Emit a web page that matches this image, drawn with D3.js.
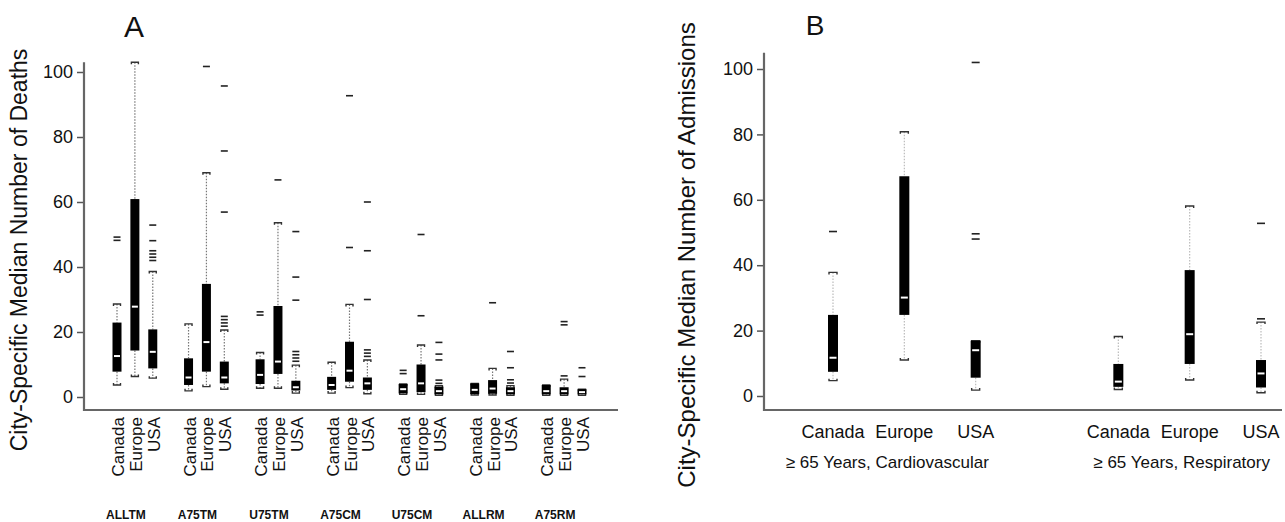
<!DOCTYPE html>
<html>
<head>
<meta charset="utf-8">
<script src="https://cdn.jsdelivr.net/npm/d3@7"></script>
<style>
body { margin: 0; background: #fff; }
text { font-family: "Liberation Sans", Arial, Helvetica, sans-serif; fill: #111; }
</style>
</head>
<body>
<svg id="chart" width="1285" height="522"></svg>
<script>
// ---- data ----
var groupsA = ["ALLTM", "A75TM", "U75TM", "A75CM", "U75CM", "ALLRM", "A75RM"];
var regions = ["Canada", "Europe", "USA"];

// panel A, one entry per box: group by group, Canada / Europe / USA inside each
var lowA  = [3.7, 6.3, 5.8,   1.9, 3.2, 2.4,   2.7, 2.7, 1.2,   1.2, 2.9, 1.0,   0.8, 0.8, 0.5,   0.6, 0.6, 0.5,   0.5, 0.5, 0.5];
var q1A   = [7.8, 14.3, 8.8,  3.7, 7.8, 4.2,   4.0, 7.1, 2.0,   2.2, 4.7, 2.2,   1.1, 1.5, 0.8,   0.9, 1.0, 0.8,   0.8, 0.8, 0.8];
var medA  = [12.6, 27.8, 13.9, 6.0, 16.9, 6.0, 6.8, 10.9, 3.0,  3.7, 8.1, 4.2,   2.4, 4.2, 1.8,   2.2, 2.6, 1.8,   1.8, 1.8, 1.5];
var q3A   = [22.9, 60.9, 20.8, 11.9, 34.8, 10.9, 11.6, 28.0, 5.0, 6.2, 17.0, 6.0, 4.0, 10.0, 3.2, 4.2, 5.2, 3.0,  3.7, 3.0, 2.4];
var highA = [28.6, 103, 38.6, 22.5, 69.0, 20.6, 13.7, 53.6, 9.8, 10.7, 28.5, 11.4, 4.0, 16.0, 3.5, 4.2, 8.8, 3.5, 3.7, 5.5, 2.4];
var outA  = [
  [48.2, 49.2], [], [42, 43, 44, 45, 48.1, 52.9],
  [], [101.7], [21.8, 22.8, 23.8, 24.8, 56.9, 75.7, 95.7],
  [25.2, 26.2], [66.8], [11, 12, 13, 14, 29.8, 36.9, 50.9],
  [], [46, 92.7], [12.5, 13.5, 14.5, 30, 45, 60],
  [7.2, 8.2], [25, 50], [4.2, 5.2, 11.4, 13.2, 16.8],
  [], [29], [4.3, 5.3, 9, 14],
  [], [6.5, 22.2, 23.2], [6.3, 9]
];

// panel B: cardiovascular then respiratory, Canada / Europe / USA inside each
var groupsB = ["\u2265 65 Years, Cardiovascular", "\u2265 65 Years, Respiratory"];
var lowB  = [4.7, 11.0, 1.8,   2.0, 4.9, 1.0];
var q1B   = [7.4, 24.8, 5.6,   2.8, 9.8, 2.6];
var medB  = [11.7, 30.1, 14.0, 4.4, 18.9, 6.9];
var q3B   = [24.8, 67.2, 16.9, 9.8, 38.5, 11.0];
var highB = [37.8, 80.8, 16.9, 18.2, 58.1, 22.6];
var outB  = [[50.3], [], [48, 49.6, 102], [], [], [23.6, 52.8]];

var yTicks = [0, 20, 40, 60, 80, 100];

// ---- drawing ----
var svg = d3.select("#chart");

function boxes(arr) {
  return arr.map(function (d, i) { return i; });
}

function drawBoxes(g, x, y, pos, st, boxW, capW, whiskerCol) {
  var idx = boxes(st.low);
  var b = g.selectAll("g.box").data(idx).enter().append("g").attr("class", "box")
    .attr("transform", function (i) { return "translate(" + x(pos(i)) + ",0)"; });

  // whiskers
  b.append("line").attr("x1", 0).attr("x2", 0)
    .attr("y1", function (i) { return y(st.high[i]); })
    .attr("y2", function (i) { return y(st.q3[i]); })
    .attr("stroke", whiskerCol).attr("stroke-width", 1.2).attr("stroke-dasharray", "1.5,1.5");
  b.append("line").attr("x1", 0).attr("x2", 0)
    .attr("y1", function (i) { return y(st.q1[i]); })
    .attr("y2", function (i) { return y(st.low[i]); })
    .attr("stroke", whiskerCol).attr("stroke-width", 1.2).attr("stroke-dasharray", "1.5,1.5");

  // caps
  b.append("path")
    .attr("d", function (i) { var yy = y(st.high[i]); return "M" + (-capW / 2) + "," + (yy + 2) + "V" + yy + "H" + (capW / 2) + "V" + (yy + 2); })
    .attr("fill", "none").attr("stroke", "#333").attr("stroke-width", 1.4);
  b.append("path")
    .attr("d", function (i) { var yy = y(st.low[i]); return "M" + (-capW / 2) + "," + (yy - 2) + "V" + yy + "H" + (capW / 2) + "V" + (yy - 2); })
    .attr("fill", "none").attr("stroke", "#333").attr("stroke-width", 1.4);

  // box
  b.append("rect")
    .attr("x", -boxW / 2).attr("width", boxW)
    .attr("y", function (i) { return y(st.q3[i]); })
    .attr("height", function (i) { return Math.max(2, y(st.q1[i]) - y(st.q3[i])); })
    .attr("fill", "#000");

  // median
  b.append("line")
    .attr("x1", -boxW / 2 + 1.5).attr("x2", boxW / 2 - 1.5)
    .attr("y1", function (i) { return y(st.med[i]); })
    .attr("y2", function (i) { return y(st.med[i]); })
    .attr("stroke", "#fff").attr("stroke-width", 2);

  // outliers
  b.selectAll("line.out").data(function (i) { return st.out[i]; }).enter().append("line")
    .attr("class", "out")
    .attr("x1", -capW / 2).attr("x2", capW / 2)
    .attr("y1", function (v) { return y(v); }).attr("y2", function (v) { return y(v); })
    .attr("stroke", "#222").attr("stroke-width", 1.6);
}

function drawAxis(g, y, xAxis, yTop, yBottom, xRight) {
  var ax = g.append("g").attr("transform", "translate(" + xAxis + ",0)")
    .call(d3.axisLeft(y).tickValues(yTicks).tickSize(7).tickPadding(4));
  ax.select(".domain").remove();
  ax.selectAll(".tick line").attr("stroke", "#555").attr("stroke-width", 1.5);
  ax.selectAll(".tick text").attr("font-size", 18).attr("font-family", "Liberation Sans, Arial, sans-serif").attr("fill", "#111");
  g.append("path")
    .attr("d", "M" + xAxis + "," + yTop + "V" + yBottom + "H" + xRight)
    .attr("fill", "none").attr("stroke", "#666").attr("stroke-width", 2.2);
}

// ---- panel A ----
var gA = svg.append("g");
var xA = d3.scaleLinear().domain([0, 26]).range([117, 582]);
var yA = d3.scaleLinear().domain([0, 100]).range([397, 72]);
var posA = function (i) { return 4 * Math.floor(i / 3) + (i % 3); };

drawAxis(gA, yA, 84, yA(103), 410, 618);
drawBoxes(gA, xA, yA, posA,
  { low: lowA, q1: q1A, med: medA, q3: q3A, high: highA, out: outA }, 9, 7, "#777");

gA.append("text").attr("x", 134).attr("y", 37).attr("text-anchor", "middle")
  .attr("font-size", 30).text("A");

gA.append("text")
  .attr("transform", "translate(27,250) rotate(-90)")
  .attr("text-anchor", "middle").attr("font-size", 23)
  .text("City-Specific Median Number of Deaths");

gA.selectAll("text.reg").data(boxes(lowA)).enter().append("text")
  .attr("class", "reg")
  .attr("transform", function (i) { return "translate(" + (xA(posA(i)) + 7) + ",417) rotate(-90)"; })
  .attr("text-anchor", "end").attr("font-size", 17)
  .text(function (i) { return regions[i % 3]; });

gA.selectAll("text.grp").data(groupsA).enter().append("text")
  .attr("class", "grp")
  .attr("x", function (d, k) { return xA(4 * k + 1) - 9; })
  .attr("y", 519).attr("text-anchor", "middle")
  .attr("font-size", 12).attr("font-weight", "bold")
  .text(function (d) { return d; });

// ---- panel B ----
var gB = svg.append("g");
var xB = d3.scaleLinear().domain([0, 6]).range([833, 1261]);
var yB = d3.scaleLinear().domain([0, 100]).range([396, 69]);
var posB = function (i) { return 4 * Math.floor(i / 3) + (i % 3); };

drawAxis(gB, yB, 764, yB(105), 410, 1282);
drawBoxes(gB, xB, yB, posB,
  { low: lowB, q1: q1B, med: medB, q3: q3B, high: highB, out: outB }, 10, 8, "#bbb");

gB.append("text").attr("x", 815).attr("y", 35).attr("text-anchor", "middle")
  .attr("font-size", 28).text("B");

gB.append("text")
  .attr("transform", "translate(695,255) rotate(-90)")
  .attr("text-anchor", "middle").attr("font-size", 24)
  .text("City-Specific Median Number of Admissions");

gB.selectAll("text.reg").data(boxes(lowB)).enter().append("text")
  .attr("class", "reg")
  .attr("x", function (i) { return xB(posB(i)); })
  .attr("y", 438).attr("text-anchor", "middle").attr("font-size", 18)
  .text(function (i) { return regions[i % 3]; });

var grpShiftB = [-17, -8];
gB.selectAll("text.grp").data(groupsB).enter().append("text")
  .attr("class", "grp")
  .attr("x", function (d, k) { return xB(4 * k + 1) + grpShiftB[k]; })
  .attr("y", 468).attr("text-anchor", "middle").attr("font-size", 17)
  .text(function (d) { return d; });
</script>
</body>
</html>
